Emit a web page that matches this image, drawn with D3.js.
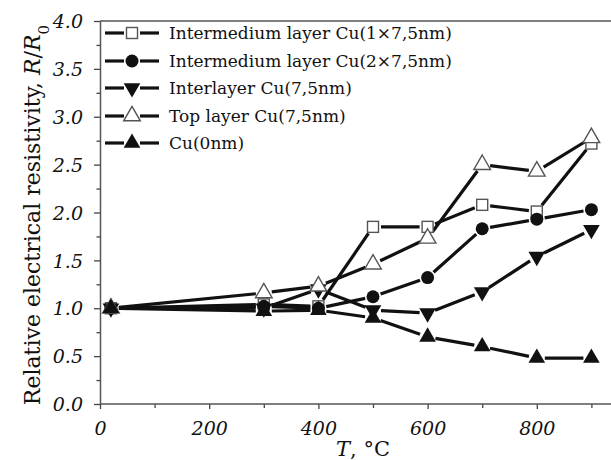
<!DOCTYPE html>
<html><head><meta charset="utf-8">
<script src="https://cdn.jsdelivr.net/npm/d3@7"></script>
<style>body{margin:0;background:#fff}svg{display:block}</style>
</head><body>
<svg id="c" width="611" height="460"></svg>
<script>
const temps = [20, 300, 400, 500, 600, 700, 800, 900];
const seriesNames = [
  "Intermedium layer Cu(1×7,5nm)",
  "Intermedium layer Cu(2×7,5nm)",
  "Interlayer Cu(7,5nm)",
  "Top layer Cu(7,5nm)",
  "Cu(0nm)"
];
const seriesSymbols = ["squareOpen", "circle", "triDown", "triOpen", "triUp"];
const valsSquare  = [1.0, 1.04, 1.02, 1.85, 1.85, 2.08, 2.01, 2.72];
const valsCircle  = [1.0, 1.02, 1.0, 1.12, 1.32, 1.83, 1.93, 2.03];
const valsTriDown = [1.0, 1.0, 1.2, 0.98, 0.95, 1.17, 1.54, 1.82];
const valsTriOpen = [1.0, 1.16, 1.23, 1.46, 1.73, 2.5, 2.43, 2.78];
const valsTriUp   = [1.0, 0.97, 0.98, 0.9, 0.7, 0.6, 0.48, 0.48];
const seriesValues = [valsSquare, valsCircle, valsTriDown, valsTriOpen, valsTriUp];
const xTicksMajor = [0, 200, 400, 600, 800];
const xTicksAll = [0, 100, 200, 300, 400, 500, 600, 700, 800, 900];
const yTicksMajor = [0, 0.5, 1, 1.5, 2, 2.5, 3, 3.5, 4];
const yTicksAll = d3.range(0, 4.001, 0.25);

const svg = d3.select("#c");
const W = 611;
const x = d3.scaleLinear().domain([0, 1000]).range([100, 646]);
const y = d3.scaleLinear().domain([0, 4]).range([404, 21]);
const serif = "'DejaVu Serif', serif";
const ink = "#111";

// frame lines
svg.append("line").attr("x1", 100).attr("x2", W).attr("y1", 21).attr("y2", 21)
  .attr("stroke", "#555").attr("stroke-width", 1.5);

// y axis
const yAx = svg.append("g").attr("transform", "translate(100,0)")
  .call(d3.axisLeft(y).tickValues(yTicksAll).tickSize(0).tickFormat(""));
yAx.select(".domain").attr("stroke", "#555").attr("stroke-width", 1.5);
yAx.selectAll(".tick line").remove();
yAx.selectAll(".tick").append("line")
  .attr("x1", d => yTicksMajor.some(v => Math.abs(v - d) < 1e-6) ? -6 : -3.5).attr("x2", 0)
  .attr("stroke", "#444").attr("stroke-width", 1.3);
yAx.selectAll(".tick").filter(d => yTicksMajor.some(v => Math.abs(v - d) < 1e-6))
  .append("text").attr("x", -17).attr("dy", "0.35em").attr("text-anchor", "end")
  .attr("fill", ink).style("font-family", serif).style("font-style", "italic").style("font-size", "19px")
  .text(d => d3.format(".1f")(d));

// x axis
const xAx = svg.append("g").attr("transform", "translate(0,404)")
  .call(d3.axisBottom(x).tickValues(xTicksAll).tickSize(0).tickFormat(""));
xAx.select(".domain").remove();
xAx.append("line").attr("x1", 100).attr("x2", W).attr("stroke", "#555").attr("stroke-width", 1.5);
xAx.selectAll(".tick line").remove();
xAx.selectAll(".tick").append("line").attr("y1", 0).attr("y2", d => xTicksMajor.includes(d) ? 5 : 4)
  .attr("stroke", "#444").attr("stroke-width", 1.3);
xAx.selectAll(".tick").filter(d => xTicksMajor.includes(d))
  .append("text").attr("y", 31).attr("text-anchor", "middle")
  .attr("fill", ink).style("font-family", serif).style("font-style", "italic").style("font-size", "19px")
  .text(d => d);

// axis titles
const xt = svg.append("text").attr("x", 363).attr("y", 456).attr("text-anchor", "middle")
  .attr("fill", ink).style("font-family", serif).style("font-size", "21px");
xt.append("tspan").style("font-style", "italic").text("T");
xt.append("tspan").text(", °C");

const yt = svg.append("text").attr("transform", "translate(40,215) rotate(-90)")
  .attr("text-anchor", "middle").attr("fill", ink).style("font-family", serif).style("font-size", "22px");
yt.append("tspan").text("Relative electrical resistivity, ");
yt.append("tspan").style("font-style", "italic").text("R");
yt.append("tspan").text("/");
yt.append("tspan").style("font-style", "italic").text("R");
yt.append("tspan").attr("baseline-shift", "sub").style("font-size", "15px").text("0");

// marker drawing
function drawMarker(g, type, cx, cy) {
  const tri = d3.symbol().type(d3.symbolTriangle).size(120);
  if (type === "squareOpen") {
    g.append("rect").attr("x", cx - 5.5).attr("y", cy - 5.5).attr("width", 11).attr("height", 11)
      .attr("fill", "#fff").attr("stroke", "#555").attr("stroke-width", 1.4);
  } else if (type === "circle") {
    g.append("circle").attr("cx", cx).attr("cy", cy).attr("r", 6.5).attr("fill", ink);
  } else if (type === "triDown") {
    g.append("path").attr("d", tri()).attr("transform", `translate(${cx},${cy}) rotate(180)`).attr("fill", ink);
  } else if (type === "triUp") {
    g.append("path").attr("d", tri()).attr("transform", `translate(${cx},${cy})`).attr("fill", ink);
  } else if (type === "triOpen") {
    g.append("path").attr("d", tri()).attr("transform", `translate(${cx},${cy})`)
      .attr("fill", "#fff").attr("stroke", "#555").attr("stroke-width", 1.4);
  }
}

// lines with gaps around the symbols
const gap = 8;
const plot = svg.append("g");
seriesValues.forEach((vals, si) => {
  const pts = vals.map((v, i) => [x(temps[i]), y(v)]);
  for (let i = 0; i < pts.length - 1; i++) {
    const [x1, y1] = pts[i], [x2, y2] = pts[i + 1];
    const L = Math.hypot(x2 - x1, y2 - y1);
    if (L <= 2 * gap) continue;
    const ux = (x2 - x1) / L, uy = (y2 - y1) / L;
    plot.append("line")
      .attr("x1", x1 + ux * gap).attr("y1", y1 + uy * gap)
      .attr("x2", x2 - ux * gap).attr("y2", y2 - uy * gap)
      .attr("stroke", ink).attr("stroke-width", 3.2).attr("stroke-linecap", "butt");
  }
});
seriesValues.forEach((vals, si) => {
  const g = plot.append("g");
  vals.forEach((v, i) => drawMarker(g, seriesSymbols[si], x(temps[i]), y(v)));
});

// legend
const legRows = [33, 61, 88, 116, 143];
const leg = svg.append("g");
seriesNames.forEach((name, i) => {
  const cy = legRows[i];
  leg.append("line").attr("x1", 105).attr("x2", 124).attr("y1", cy).attr("y2", cy)
    .attr("stroke", ink).attr("stroke-width", 3.2);
  leg.append("line").attr("x1", 140).attr("x2", 159).attr("y1", cy).attr("y2", cy)
    .attr("stroke", ink).attr("stroke-width", 3.2);
  drawMarker(leg, seriesSymbols[i], 132, cy);
  leg.append("text").attr("x", 169).attr("y", cy).attr("dy", "0.35em")
    .attr("fill", ink).style("font-family", serif).style("font-size", "17px").text(name);
});
</script>
</body></html>
